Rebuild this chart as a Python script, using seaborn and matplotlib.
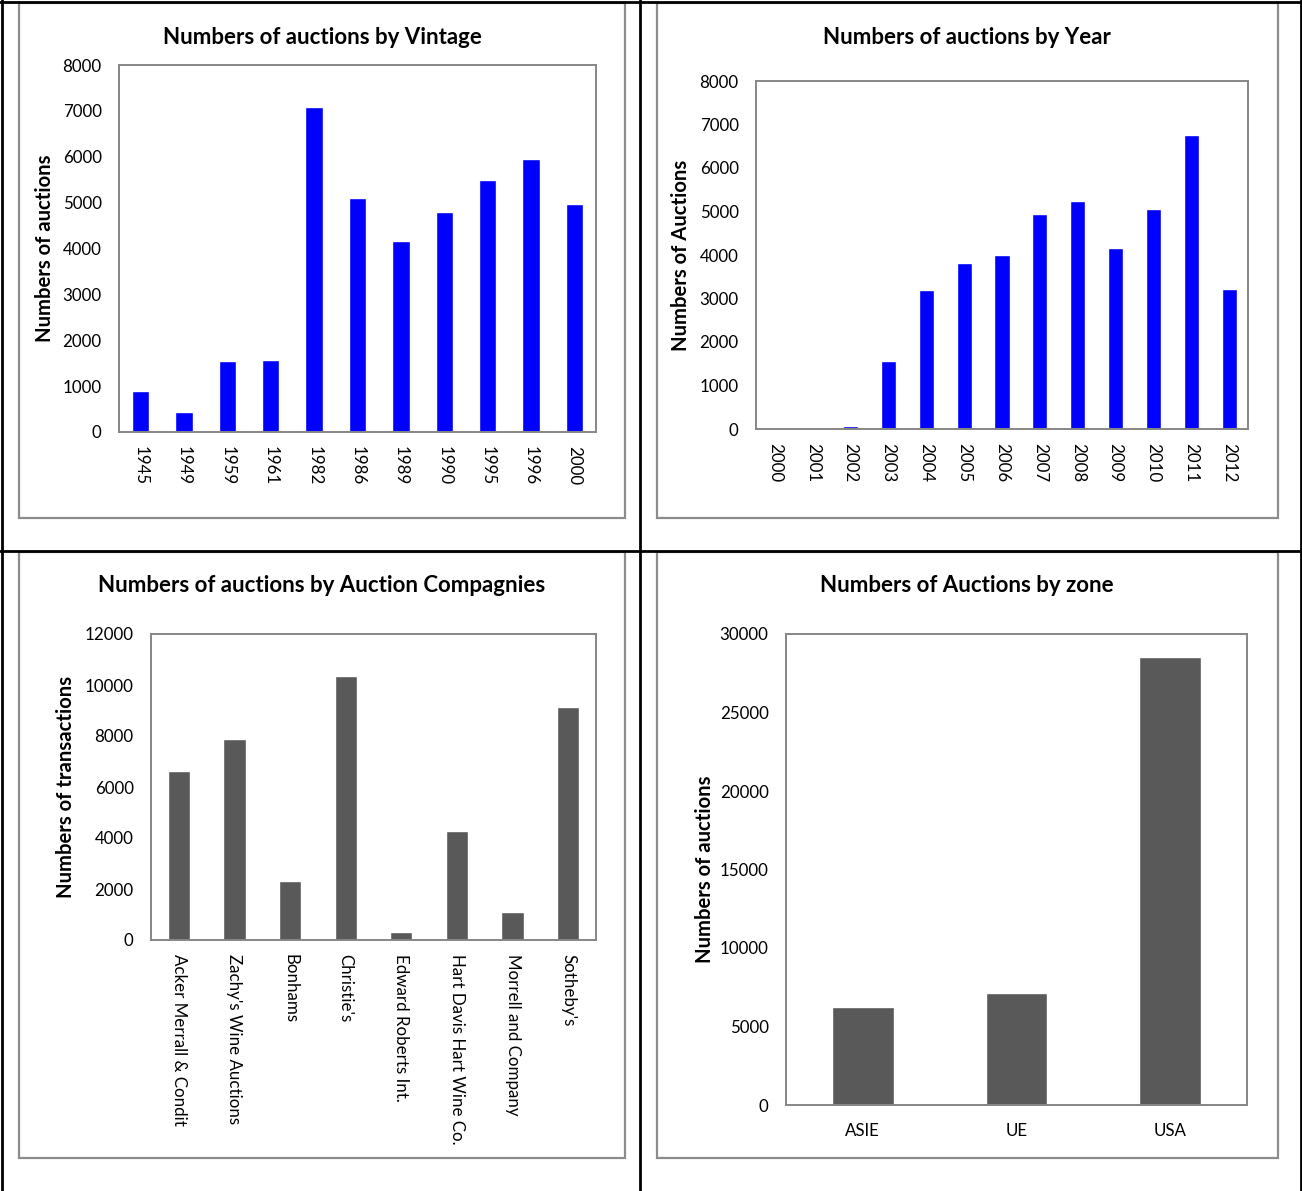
import matplotlib
matplotlib.use("Agg")
import matplotlib.pyplot as plt
import seaborn as sns
from matplotlib.patches import Rectangle
from matplotlib.lines import Line2D

# ---- data -------------------------------------------------------------
vintages = ["1945", "1949", "1959", "1961", "1982", "1986", "1989",
            "1990", "1995", "1996", "2000"]
vintage_counts = [900, 440, 1550, 1560, 7080, 5100, 4160, 4790, 5500, 5950, 4960]

years = ["2000", "2001", "2002", "2003", "2004", "2005", "2006",
         "2007", "2008", "2009", "2010", "2011", "2012"]
year_counts = [0, 0, 60, 1570, 3200, 3820, 4000, 4950, 5250, 4150, 5060, 6750, 3220]

companies = ["Acker Merrall & Condit", "Zachy's Wine Auctions", "Bonhams",
             "Christie's", "Edward Roberts Int.", "Hart Davis Hart Wine Co.",
             "Morrell and Company", "Sotheby's"]
company_counts = [6630, 7880, 2300, 10350, 300, 4270, 1080, 9140]

zones = ["ASIE", "UE", "USA"]
zone_counts = [6250, 7150, 28550]

# ---- style ------------------------------------------------------------
sns.set_theme(style="white")
plt.rcParams["font.family"] = ["Lato", "DejaVu Sans"]

W, H = 1302, 1191
fig = plt.figure(figsize=(W / 100, H / 100), dpi=100)
fig.patch.set_facecolor("white")

BLUE = "#0000FF"
DARK = "#595959"
SPINE = "#868686"
FRAME = "#8C8C8C"
TICK_SIZE = 12.2


def fx(px):
    return px / W


def fy(py):
    return 1 - py / H


def add_axes_px(left, top, right, bottom):
    return fig.add_axes([fx(left), fy(bottom), (right - left) / W, (bottom - top) / H])


def chart_frame(left, top, right, bottom):
    fig.add_artist(Rectangle((fx(left), fy(bottom)), (right - left) / W,
                             (bottom - top) / H, transform=fig.transFigure,
                             fill=False, edgecolor=FRAME, linewidth=1.6))


def style_axes(ax, yticks, title, title_xy, ylabel, ylabel_x, rotate=True, xpad=10):
    ax.set_ylim(yticks[0], yticks[-1])
    ax.set_yticks(yticks)
    ax.set_yticklabels([str(t) for t in yticks])
    for s in ax.spines.values():
        s.set_visible(True)
        s.set_color(SPINE)
        s.set_linewidth(1.4)
    ax.tick_params(axis="y", direction="inout", length=7, width=1.2,
                   color=SPINE, pad=9, labelsize=TICK_SIZE, labelcolor="black")
    ax.tick_params(axis="x", length=0, pad=xpad, labelsize=TICK_SIZE,
                   labelcolor="black", labelrotation=270 if rotate else 0)
    if rotate:
        for lab in ax.get_xticklabels():
            lab.set_va("top")
            lab.set_ha("center")
    ax.set_xlabel("")
    ax.set_ylabel(ylabel, fontsize=14.6, fontweight="bold", color="black")
    ax.yaxis.label.set_va("center")
    ax.yaxis.set_label_coords(ylabel_x, 0.5)
    fig.text(fx(title_xy[0]), fy(title_xy[1]), title, fontsize=16,
             fontweight="bold", color="black", ha="center", va="center")
    ax.grid(False)


# ---- chart frames ----------------------------------------------------
chart_frame(19, 3, 625, 518)
chart_frame(657, 3, 1278, 518)
chart_frame(19, 552, 625, 1158)
chart_frame(657, 552, 1278, 1158)

# ---- table lines -----------------------------------------------------
for x in (1.5, 639.5, 1300.5):
    fig.add_artist(Line2D([fx(x), fx(x)], [0, 1], transform=fig.transFigure,
                          color="black", linewidth=2))
for y in (1.5, 551):
    fig.add_artist(Line2D([0, 1], [fy(y), fy(y)], transform=fig.transFigure,
                          color="black", linewidth=2))

# ---- vintage ---------------------------------------------------------
ax1 = add_axes_px(119, 65, 596, 432)
sns.barplot(x=vintages, y=vintage_counts, color=BLUE, saturation=1,
            width=0.4, ax=ax1)
style_axes(ax1, list(range(0, 8001, 1000)), "Numbers of auctions by Vintage",
           (322, 37), "Numbers of auctions", (45 - 119) / 477)

# ---- year ------------------------------------------------------------
ax2 = add_axes_px(756, 81, 1248, 429)
sns.barplot(x=years, y=year_counts, color=BLUE, saturation=1,
            width=0.4, ax=ax2)
style_axes(ax2, list(range(0, 8001, 1000)), "Numbers of auctions by Year",
           (967, 37), "Numbers of Auctions", (681 - 756) / 492)

# ---- companies -------------------------------------------------------
ax3 = add_axes_px(151, 634, 596, 940)
sns.barplot(x=companies, y=company_counts, color=DARK, saturation=1,
            width=0.4, ax=ax3)
style_axes(ax3, list(range(0, 12001, 2000)),
           "Numbers of auctions by Auction Compagnies", (322, 586),
           "Numbers of transactions", (66 - 151) / 445)

# ---- zones -----------------------------------------------------------
ax4 = add_axes_px(786, 634, 1247, 1105)
sns.barplot(x=zones, y=zone_counts, color=DARK, saturation=1,
            width=0.4, ax=ax4)
style_axes(ax4, list(range(0, 30001, 5000)), "Numbers of Auctions by zone",
           (967, 586), "Numbers of auctions", (705 - 786) / 461,
           rotate=False, xpad=13)

fig.savefig("out.png", dpi=100, facecolor="white")
